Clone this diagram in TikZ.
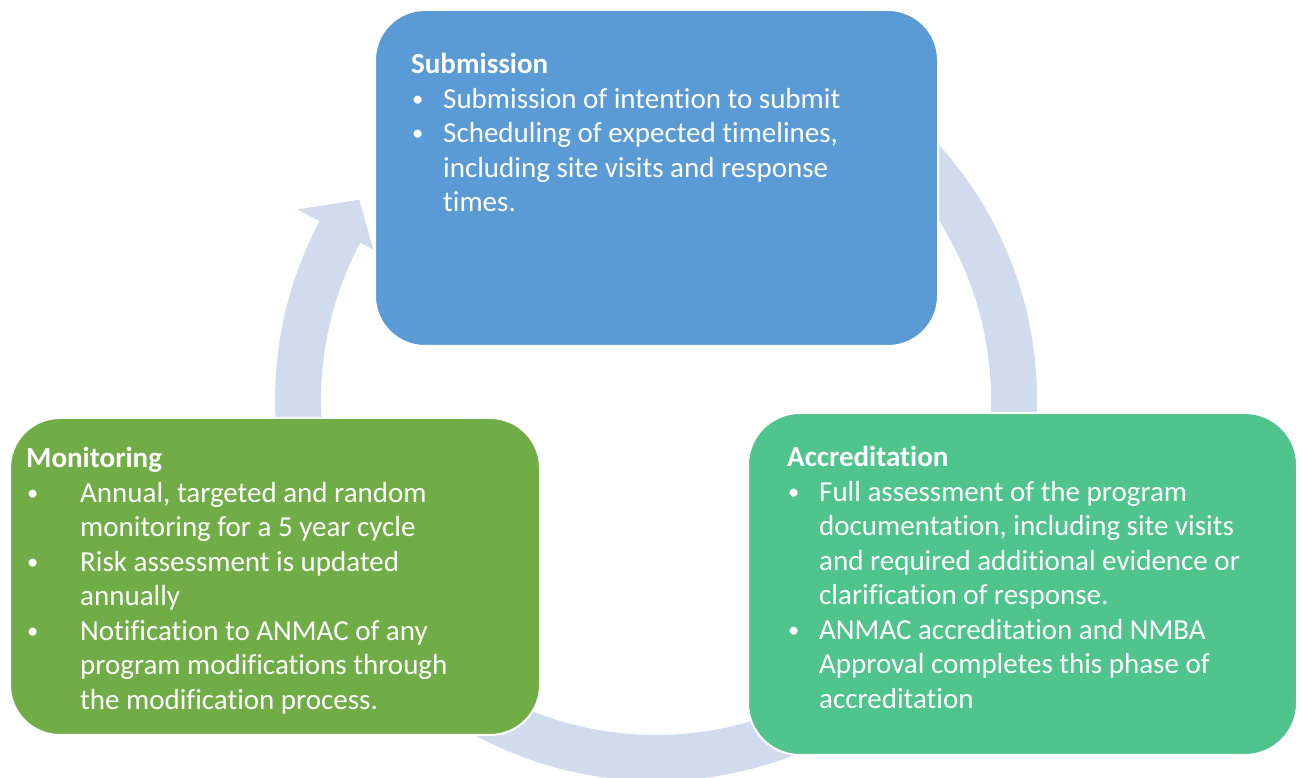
\documentclass[tikz,border=0pt]{standalone}
\usepackage{graphicx}
\usepackage{fontspec}
\setmainfont{Carlito}[Ligatures=CommonOff]
\definecolor{ringblue}{HTML}{D0DCEE}
\definecolor{subblue}{HTML}{5B9BD5}
\definecolor{mongreen}{HTML}{70AD47}
\definecolor{accgreen}{HTML}{4FC48C}
% one line of a phase text: title, bulleted line, continuation line
\newcommand\phasetitle[1]{\hbox{\bfseries #1}}
\newcommand\smallbullet{\raisebox{2pt}{\scalebox{0.78}{\textbullet}}}
\newcommand\bulletline[2]{\hbox{\hbox to #1{\hskip1pt\smallbullet\hfil}#2}}
\newcommand\moreline[2]{\hbox{\hskip#1\relax #2}}
\begin{document}
\begin{tikzpicture}[x=1pt,y=1pt,
  phase/.style={draw=white, line width=2pt, inner sep=0pt},
  phasetext/.style={anchor=base west, inner sep=0pt, text=white,
    font=\fontsize{29}{34.5}\selectfont}]
\fill[white] (0,0) rectangle (1302,778);
\useasboundingbox (0,0) rectangle (1302,778);

% the cycle: three curved arrows on one ring
\begin{scope}[shift={(656,378)}, fill=ringblue]
  \fill (200:381) arc[start angle=200, end angle=152, radius=381]
    -- (152:406) -- (146:358) -- (152:320) -- (152:335)
    arc[start angle=152, end angle=200, radius=335] -- cycle;
  \fill (75:381) arc[start angle=75, end angle=-4, radius=381]
    -- (-4:406) -- (-10:358) -- (-4:320) -- (-4:335)
    arc[start angle=-4, end angle=75, radius=335] -- cycle;
  \fill (-40:381) arc[start angle=-40, end angle=-132, radius=381]
    -- (-132:406) -- (-138:358) -- (-132:320) -- (-132:335)
    arc[start angle=-132, end angle=-40, radius=335] -- cycle;
\end{scope}

% phase boxes
\node[phase, fill=subblue, rounded corners=50pt,
  minimum width=563pt, minimum height=336pt] (submission) at (656.5,600) {};
\node[phase, fill=mongreen, rounded corners=50pt,
  minimum width=530pt, minimum height=317pt] (monitoring) at (275,201.5) {};
\node[phase, fill=accgreen, rounded corners=52pt,
  minimum width=549pt, minimum height=342pt] (accreditation) at (1022.5,194) {};

% phase texts
\node[phasetext] (submission-text) at (411,704) {\vtop{%
  \phasetitle{Submission}
  \bulletline{32pt}{Submission of intention to submit}
  \bulletline{32pt}{Scheduling of expected timelines,}
  \moreline{32pt}{including site visits and response}
  \moreline{32pt}{times.}}};

\node[phasetext] (monitoring-text) at (26,310) {\vtop{%
  \phasetitle{Monitoring}
  \bulletline{54pt}{Annual, targeted and random}
  \moreline{54pt}{monitoring for a 5 year cycle}
  \bulletline{54pt}{Risk assessment is updated}
  \moreline{54pt}{annually}
  \bulletline{54pt}{Notification to ANMAC of any}
  \moreline{54pt}{program modifications through}
  \moreline{54pt}{the modification process.}}};

\node[phasetext] (accreditation-text) at (787,311) {\vtop{%
  \phasetitle{Accreditation}
  \bulletline{32pt}{Full assessment of the program}
  \moreline{32pt}{documentation, including site visits}
  \moreline{32pt}{and required additional evidence or}
  \moreline{32pt}{clarification of response.}
  \bulletline{32pt}{ANMAC accreditation and NMBA}
  \moreline{32pt}{Approval completes this phase of}
  \moreline{32pt}{accreditation}}};
\end{tikzpicture}
\end{document}
